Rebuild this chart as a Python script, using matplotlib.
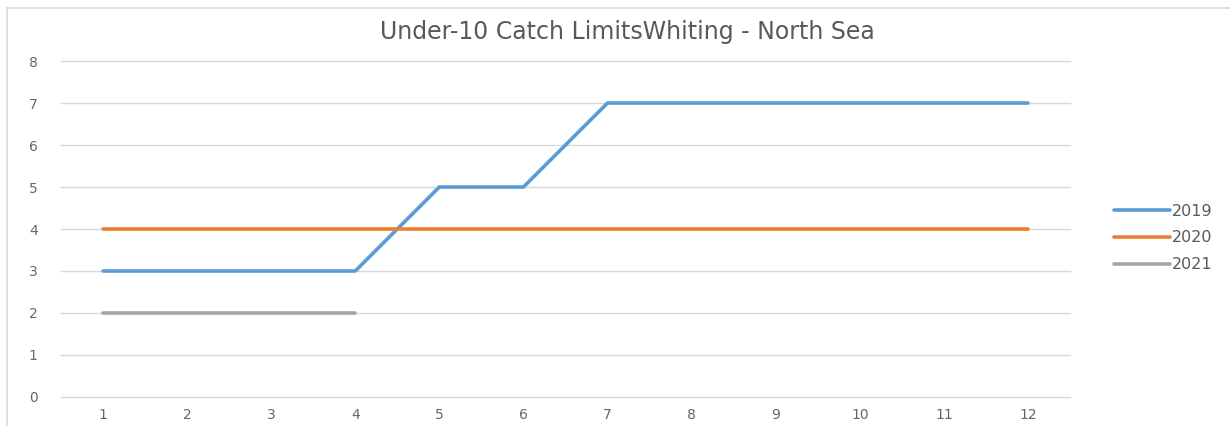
import matplotlib.pyplot as plt
from matplotlib.lines import Line2D

months = [1, 2, 3, 4, 5, 6, 7, 8, 9, 10, 11, 12]
limits_2019 = [3, 3, 3, 3, 5, 5, 7, 7, 7, 7, 7, 7]
limits_2020 = [4, 4, 4, 4, 4, 4, 4, 4, 4, 4, 4, 4]
months_2021 = [1, 2, 3, 4]
limits_2021 = [2, 2, 2, 2]

plt.rcParams['font.family'] = ['DejaVu Sans']

fig = plt.figure(figsize=(12.3, 4.26), dpi=100)
ax = fig.add_axes([61 / 1230, 1 - 397 / 426, (1070 - 61) / 1230, (397 - 61) / 426])

ax.plot(months, limits_2019, color='#5B9BD5', lw=2.6, label='2019', solid_capstyle='round')
ax.plot(months, limits_2020, color='#ED7D31', lw=2.6, label='2020', solid_capstyle='round')
ax.plot(months_2021, limits_2021, color='#A5A5A5', lw=2.6, label='2021', solid_capstyle='round')

ax.set_xlim(0.5, 12.5)
ax.set_ylim(0, 8)
ax.set_xticks(months)
ax.set_yticks(range(0, 9))
ax.grid(axis='y', color='#D9D9D9', lw=1)
for gl in ax.get_ygridlines():
    gl.set_clip_on(False)
ax.set_axisbelow(True)
for s in ax.spines.values():
    s.set_visible(False)
ax.tick_params(length=0, labelsize=10, labelcolor='#666666')
ax.tick_params(axis='x', pad=8)
ax.tick_params(axis='y', pad=20)
for lab in ax.get_yticklabels():
    lab.set_horizontalalignment('center')

fig.text(627 / 1230, 1 - 32 / 426, 'Under-10 Catch LimitsWhiting - North Sea',
         ha='center', va='center', fontsize=17, color='#595959')

leg = fig.legend(loc='center left', bbox_to_anchor=(1100 / 1230, 1 - 238 / 426),
                 frameon=False, fontsize=11.5, handlelength=3.5, handletextpad=0.1,
                 labelspacing=0.75)
for t in leg.get_texts():
    t.set_color('#595959')

# chart border
fig.add_artist(Line2D([7 / 1230, 7 / 1230], [0, 1 - 8 / 426], transform=fig.transFigure,
                      color='#D9D9D9', lw=1.2))
fig.add_artist(Line2D([7 / 1230, 1], [1 - 8 / 426, 1 - 8 / 426], transform=fig.transFigure,
                      color='#D9D9D9', lw=1.2))

fig.savefig('out.png', dpi=100)
